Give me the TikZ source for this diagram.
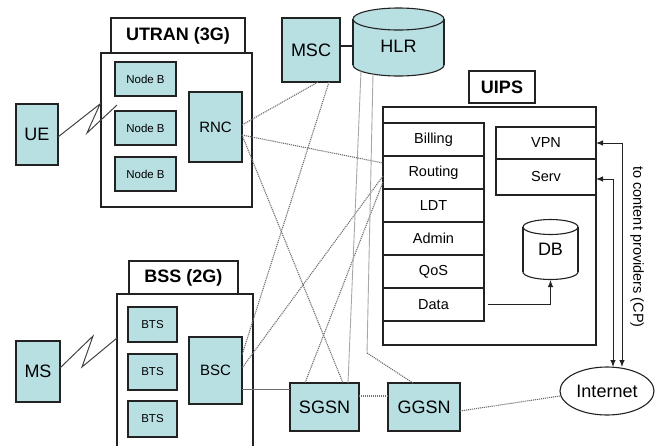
\documentclass[tikz,border=0pt]{standalone}
\usepackage{fontspec}
\setmainfont{Liberation Sans}
\usetikzlibrary{arrows.meta,shapes.geometric}
\definecolor{cellfill}{HTML}{B8DFE2}
\definecolor{edge}{HTML}{222222}
\definecolor{wire}{HTML}{6E6E6E}
\definecolor{hlrwire}{HTML}{A8A8A8}
\begin{document}
\begin{tikzpicture}[x=1pt,y=-1pt,
  box/.style={draw=edge,line width=1.1pt,fill=white,inner sep=0pt,outer sep=0pt},
  unit/.style={box,fill=cellfill},
  title/.style={box,font=\fontsize{18}{20}\selectfont\bfseries},
  big/.style={font=\fontsize{18}{20}\selectfont},
  mid/.style={font=\fontsize{15}{17}\selectfont},
  small/.style={font=\fontsize{11.5}{13}\selectfont},
  row/.style={box,font=\fontsize{14.5}{16}\selectfont,minimum width=101pt,minimum height=33pt},
  sig/.style={draw=wire,line width=1.1pt,dash pattern=on 1.1pt off 0.9pt},
  hlrline/.style={draw=hlrwire,line width=0.9pt},
  bolt/.style={draw=edge!85,line width=1pt},
  tip/.style={-{Latex[length=7pt,width=5.5pt]}},
  twotips/.style={{Latex[length=7pt,width=5.5pt]}-{Latex[length=7pt,width=5.5pt]}}]
\useasboundingbox (0,0) rectangle (659,445);

% ---------- UTRAN (3G) ----------
\node[title,minimum width=134pt,minimum height=35pt] (utranT) at (178,35.5) {UTRAN (3G)};
\node[box,minimum width=151pt,minimum height=154pt] (utran) at (176.5,130) {};
\node[unit,small,minimum width=61pt,minimum height=34pt] (nb1) at (145.5,79) {Node B};
\node[unit,small,minimum width=61pt,minimum height=34pt] (nb2) at (145.5,128) {Node B};
\node[unit,small,minimum width=61pt,minimum height=34pt] (nb3) at (145.5,174) {Node B};
\node[unit,mid,minimum width=53pt,minimum height=70pt] (rnc) at (215.5,127) {RNC};
\node[unit,big,minimum width=42pt,minimum height=61pt] (ue) at (37,134.5) {UE};

% ---------- BSS (2G) ----------
\node[title,minimum width=109pt,minimum height=33pt] (bssT) at (183.5,277.5) {BSS (2G)};
\node[box,minimum width=136pt,minimum height=164pt] (bss) at (185,376) {};
\node[unit,small,minimum width=49pt,minimum height=35pt] (bts1) at (152.5,324.5) {BTS};
\node[unit,small,minimum width=49pt,minimum height=36pt] (bts2) at (152.5,372) {BTS};
\node[unit,small,minimum width=49pt,minimum height=36pt] (bts3) at (152.5,419) {BTS};
\node[unit,mid,minimum width=53pt,minimum height=67pt] (bsc) at (215.5,370.5) {BSC};
\node[unit,big,minimum width=44pt,minimum height=61pt] (ms) at (38,371.5) {MS};

% ---------- core ----------
\node[unit,big,minimum width=58pt,minimum height=64pt] (msc) at (311,50) {MSC};
% HLR database cylinder
\fill[cellfill] (398.5,65) ellipse[x radius=45.5pt,y radius=11pt];
\fill[cellfill] (353,19) rectangle (444,65);
\begin{scope}
  \clip (340,65) rectangle (460,90);
  \draw[edge,line width=1.1pt] (398.5,65) ellipse[x radius=45.5pt,y radius=11pt];
\end{scope}
\draw[edge,line width=1.1pt] (353,19) -- (353,65) (444,19) -- (444,65);
\filldraw[fill=cellfill,draw=edge,line width=1.1pt] (398.5,19) ellipse[x radius=45.5pt,y radius=11pt];
\node[big,inner sep=0pt,outer sep=0pt,minimum width=91pt,minimum height=60pt] (hlr) at (398.5,46) {HLR};

\node[unit,big,minimum width=69pt,minimum height=48pt] (sgsn) at (324.5,407) {SGSN};
\node[unit,big,minimum width=72pt,minimum height=48pt] (ggsn) at (424,407) {GGSN};
\node[draw=edge,line width=1.1pt,fill=white,ellipse,inner sep=0pt,outer sep=0pt,
      minimum width=94pt,minimum height=48pt,big] (inet) at (607,391) {Internet};

% ---------- UIPS ----------
\node[title,minimum width=66pt,minimum height=32pt] (uipsT) at (502,87) {UIPS};
\node[box,minimum width=213pt,minimum height=238pt] (uips) at (489.5,226) {};
\node[row] (billing) at (433.5,139.5) {Billing};
\node[row] (routing) at (433.5,172.5) {Routing};
\node[row] (ldt) at (433.5,205.5) {LDT};
\node[row] (admin) at (433.5,238.5) {Admin};
\node[row] (qos) at (433.5,271.5) {QoS};
\node[row] (data) at (433.5,304.5) {Data};
\node[row,minimum width=100pt,minimum height=32pt] (vpn) at (546,143) {VPN};
\node[row,minimum width=100pt,minimum height=36pt] (serv) at (546,177) {Serv};
\draw[edge,line width=2.6pt] (routing.south west) -- (routing.south east)
                             (qos.south west) -- (qos.south east)
                             (vpn.south west) -- (vpn.south east);
% DB cylinder
\fill[white] (550.5,272) ellipse[x radius=27.5pt,y radius=7.5pt];
\fill[white] (523,227) rectangle (578,272);
\begin{scope}
  \clip (515,272) rectangle (590,290);
  \draw[edge,line width=1.1pt] (550.5,272) ellipse[x radius=27.5pt,y radius=7.5pt];
\end{scope}
\draw[edge,line width=1.1pt] (523,227) -- (523,272) (578,227) -- (578,272);
\draw[edge,line width=1.1pt] (550.5,227) ellipse[x radius=27.5pt,y radius=7.5pt];
\node[big,inner sep=0pt,outer sep=0pt,minimum width=55pt,minimum height=61pt] (db) at (550.5,249.5) {DB};

% ---------- radio links ----------
\coordinate (ueEnd) at (117,105);
\draw[bolt] ([yshift=-2.5pt]ue.east) -- (100,104) -- (87,133) -- (ueEnd);
\draw[bolt] ([yshift=3.5pt]ms.east) -- (93,336) -- (82,367) -- ([yshift=38pt]bss.west);

% ---------- signalling ----------
\draw[sig] ([yshift=2pt]rnc.east) -- ([xshift=7pt]msc.south);
\draw[sig] ([yshift=-8pt]rnc.east) -- ([yshift=9.5pt]routing.west);
\draw[sig] ([yshift=-8pt]rnc.east) -- ([xshift=18.5pt]sgsn.north);
\draw[sig] ([xshift=18pt]msc.south) -- ([yshift=15.5pt]bsc.east);
\draw[sig] ([yshift=-3.5pt]routing.west) -- ([yshift=2.5pt]bsc.east);
\draw[sig] ([yshift=-9.5pt]routing.west) -- ([xshift=-19.5pt]sgsn.north);
\draw[sig] ([yshift=11pt]sgsn.east) -- ([yshift=11pt]ggsn.west);
\draw[sig] ([yshift=-4pt]ggsn.east) -- ([yshift=-5pt]inet.west);

% ---------- HLR links ----------
\coordinate (hlrTurn) at (367,353);
\draw[hlrline] ([xshift=-37.5pt,yshift=5pt]hlr.south) -- ([xshift=23.5pt]sgsn.north);
\draw[hlrline] ([xshift=-25.5pt,yshift=2pt]hlr.south) -- (hlrTurn);
\draw[sig] (hlrTurn) -- ([xshift=-11pt]ggsn.north);

% ---------- solid links ----------
\draw[edge,line width=1.1pt] (msc.east |- hlr.west) -- (hlr.west);
\draw[wire,line width=1pt] ([yshift=-18.5pt]bsc.east) -- ([yshift=18pt]sgsn.west);
\draw[edge,line width=1pt,tip] ([xshift=4pt]data.east) -| (db.south);
\draw[edge,line width=1pt,twotips] (vpn.east) -| ([xshift=15pt]inet.north);
\draw[edge,line width=1pt,twotips] ([yshift=-2pt]serv.east) -| ([xshift=6pt]inet.north);

\node[rotate=-90,inner sep=0pt,font=\fontsize{14.5}{16}\selectfont] (cp) at (637,247) {to content providers (CP)};
\end{tikzpicture}
\end{document}
